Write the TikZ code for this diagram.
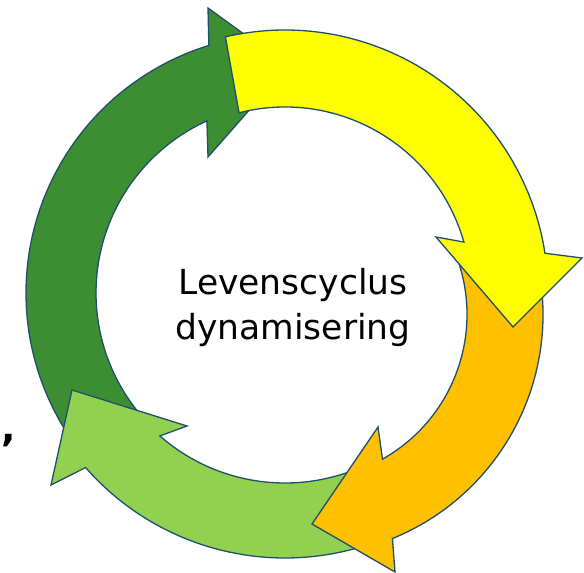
\documentclass[tikz,border=0pt]{standalone}
\usepackage{fontspec}
\setmainfont{DejaVu Sans}
\definecolor{dkgreen}{HTML}{3D8E33}
\definecolor{ltgreen}{HTML}{92D050}
\definecolor{yel}{HTML}{FFFF00}
\definecolor{org}{HTML}{FFC000}
\definecolor{edgecol}{HTML}{1F4E6E}
\begin{document}
\begin{tikzpicture}[x=1pt,y=-1pt,
  cyclearrow/.style={draw=edgecol, line width=1.3pt, line join=miter, miter limit=20},
  label/.style={font=\fontsize{34.5}{45}\selectfont, align=center, inner sep=0pt, text=black}]
\useasboundingbox (0,0) rectangle (584,573);
\begin{scope}[shift={(285,293)}, yscale=-1]
% dark green arrow (bottom layer)
\filldraw[cyclearrow, fill=dkgreen]
  (216:259) arc[start angle=216, end angle=107.1, radius=259]
  -- (-77,285) -- (3,227) -- (-77,136)
  -- (114.4:189) arc[start angle=114.4, end angle=221, radius=189]
  -- cycle;
% light green arrow
\filldraw[cyclearrow, fill=ltgreen]
  (286.4:265) arc[start angle=286.4, end angle=221.2, radius=265]
  -- (-234,-192) -- (-213,-97) -- (-98,-133)
  -- (228.8:190) arc[start angle=228.8, end angle=292, radius=190]
  -- cycle;
\end{scope}
\begin{scope}[shift={(301,314.5)}, yscale=-1]
% orange arrow
\filldraw[cyclearrow, fill=org]
  (8:242) arc[start angle=8, end angle=-67.8, radius=242]
  -- (94,-257.5) -- (11,-209.5) -- (77,-112.5)
  -- (-60.6:166) arc[start angle=-60.6, end angle=20, radius=166]
  -- cycle;
\end{scope}
\begin{scope}[shift={(285,293)}, yscale=-1]
% yellow arrow (top layer)
\filldraw[cyclearrow, fill=yel]
  (103.1:263) arc[start angle=103.1, end angle=8.7, radius=263]
  -- (297,35) -- (228,-34) -- (151,56)
  -- (15.9:186) arc[start angle=15.9, end angle=104.3, radius=186]
  -- cycle;
\end{scope}
% centre text
\node[label, anchor=north] (title) at (293,268.5) {Levenscyclus\\dynamisering};
% stray comma at the left
\node[font=\fontsize{38}{40}\selectfont\bfseries, inner sep=0pt, anchor=center] (comma) at (9,441) {,};
\end{tikzpicture}
\end{document}
